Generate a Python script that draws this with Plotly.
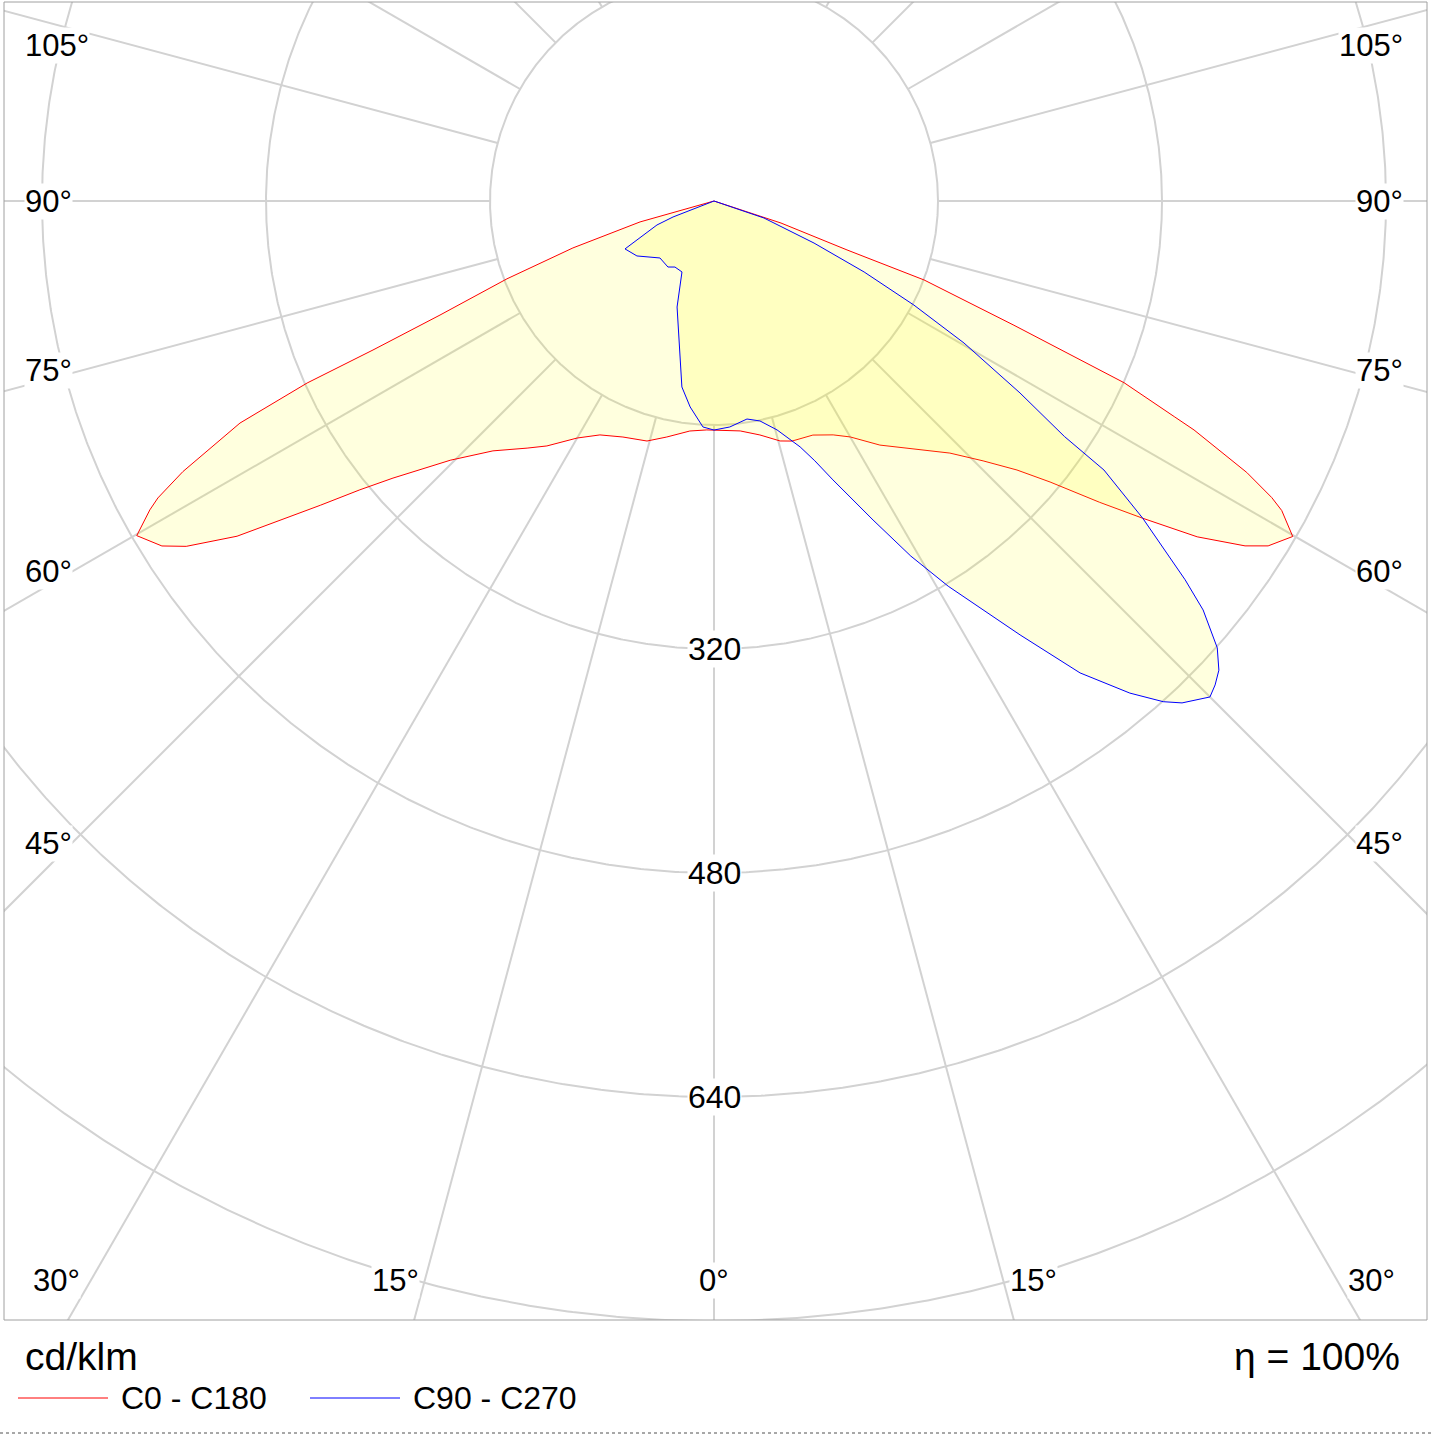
import numpy as np
import plotly.graph_objects as go

# ---------------- data (gamma from nadir in degrees, intensity in cd/klm) ----------------
c0_gamma = [0, 6.5, 11.1, 15.4, 18.0, 22.9, 27.0, 30.0, 34.2, 39.3, 43.1, 46.0, 48.4, 50.1, 52.0,
            53.5, 55.2, 57.0, 58.1, 59.9, 61.4, 62.0, 63.0, 64.5, 64.9, 66.1, 67.5, 69.4, 69.8, 71.8, 90]
c0_cd = [163.6, 165.3, 170.3, 177.8, 180.3, 181.5, 187.5, 194.6, 210.8, 228.9, 246.6, 267.2, 289.4, 312.9, 349.6,
         381.0, 420.3, 452.3, 466.2, 477.8, 461.9, 451.2, 427.1, 379.9, 363.0, 320.4, 231.9, 160.3, 101.2, 50.4, 0]

c180_gamma = [0, 1.8, 6.0, 11.3, 15.6, 21.1, 26.0, 30.0, 34.3, 37.1, 41.5, 45.5, 49.2, 50.8, 52.3,
              54.9, 56.8, 58.0, 59.9, 61.3, 61.9, 63.0, 64.9, 65.9, 66.4, 67.4, 69.4, 71.6, 74.2, 90]
c180_cd = [163.6, 163.6, 165.2, 171.9, 178.0, 180.7, 185.9, 195.5, 211.8, 221.3, 238.3, 264.2, 302.9, 326.4, 355.4,
           416.4, 450.5, 465.0, 476.6, 459.4, 450.3, 425.8, 373.9, 318.4, 265.8, 212.0, 158.0, 106.2, 54.9, 0]

c90_gamma = [0, 4.0, 8.6, 11.8, 15.4, 19.3, 21.2, 23.1, 26.5, 29.0, 31.3, 35.2, 37.8, 40.2, 41.9, 43.0, 45.0,
             46.0, 47.1, 48.4, 50.1, 51.2, 53.5, 55.4, 56.1, 57.9, 60.4, 62.5, 64.7, 67.2, 71.2, 90]
c90_cd = [163.6, 161.8, 157.5, 160.5, 169.6, 186.1, 199.0, 216.6, 254.6, 290.0, 322.0, 379.3, 426.6, 460.2, 480.5, 490.2, 501.0,
          497.6, 492.3, 480.7, 455.4, 431.8, 381.0, 338.4, 301.5, 258.0, 205.4, 161.0, 118.6, 77.5, 37.7, 0]

c270_gamma = [0, 2.8, 6.6, 9.8, 12.3, 19.2, 24.3, 30.6, 34.9, 43.5, 54.5, 61.7, 67.2, 68.7, 90]
c270_cd = [163.6, 161.6, 148.1, 134.8, 114.0, 80.2, 55.6, 54.8, 57.5, 56.1, 67.6, 72.2, 44.2, 31.4, 0]

ring_values = [160, 320, 480, 640, 800]
ring_labels = ["320", "480", "640"]
radial_step_deg = 15

left_angle_labels = ["105°", "90°", "75°", "60°", "45°"]
right_angle_labels = ["105°", "90°", "75°", "60°", "45°"]
bottom_angle_labels = ["30°", "15°", "0°", "15°", "30°"]

unit_text = "cd/klm"
eta_text = "η = 100%"
legend_names = ["C0 - C180", "C90 - C270"]
legend_colors = ["#ff0000", "#0000ff"]

# ---------------- layout geometry (pixels) ----------------
W, H = 1433, 1435
PL, PR, PT, PB = 4, 1427, 2, 1320          # plot area in pixels
CX, CY = 714, 201                           # pole position in pixels
SCALE = 1.4                                 # px per cd/klm

x_range = [(PL - CX) / SCALE, (PR - CX) / SCALE]
y_range = [(CY - PB) / SCALE, (CY - PT) / SCALE]


def px(x):
    return (x - PL) / (PR - PL)


def py(y):
    return (PB - y) / (PB - PT)


def half(gamma, cd, side):
    g = np.radians(np.asarray(gamma, float))
    r = np.asarray(cd, float)
    return side * r * np.sin(g), -r * np.cos(g)


def plane(g_right, cd_right, g_left, cd_left):
    xr, yr = half(g_right, cd_right, 1)
    xl, yl = half(g_left, cd_left, -1)
    x = np.concatenate([xr[::-1], xl])
    y = np.concatenate([yr[::-1], yl])
    return x, y


fig = go.Figure()

grid_color = "#d2d2d2"
t = np.linspace(0, 2 * np.pi, 1441)
gx, gy = [], []
for rv in ring_values:
    gx += list(rv * np.cos(t)) + [None]
    gy += list(rv * np.sin(t)) + [None]
for a in range(0, 360, radial_step_deg):
    ar = np.radians(a)
    r0, r1 = ring_values[0], 2000
    gx += [r0 * np.sin(ar), r1 * np.sin(ar), None]
    gy += [-r0 * np.cos(ar), -r1 * np.cos(ar), None]
fig.add_trace(go.Scatter(x=gx, y=gy, mode="lines", line=dict(color=grid_color, width=2),
                         hoverinfo="skip", showlegend=False))

fill = "rgba(255,255,0,0.13)"
x1, y1 = plane(c0_gamma, c0_cd, c180_gamma, c180_cd)
fig.add_trace(go.Scatter(x=x1, y=y1, mode="lines", fill="toself", fillcolor=fill,
                         line=dict(color=legend_colors[0], width=1), name=legend_names[0],
                         hoverinfo="skip", showlegend=False))
x2, y2 = plane(c90_gamma, c90_cd, c270_gamma, c270_cd)
fig.add_trace(go.Scatter(x=x2, y=y2, mode="lines", fill="toself", fillcolor=fill,
                         line=dict(color=legend_colors[1], width=1), name=legend_names[1],
                         hoverinfo="skip", showlegend=False))

FONT = "Liberation Sans, Arial, sans-serif"
ann = []
lab_font = dict(family=FONT, size=31, color="#000000")
for i, lab in enumerate(ring_labels):
    val = ring_values[i + 1]
    ann.append(dict(x=0, y=-val, xref="x", yref="y", text=lab, showarrow=False,
                    font=dict(family=FONT, size=32, color="#000000"), bgcolor="white", borderpad=0))

left_y = [46, 201, 370, 571, 843]
for lab, yy in zip(left_angle_labels, left_y):
    ann.append(dict(x=px(24), y=py(yy), xref="paper", yref="paper", text=lab, showarrow=False,
                    xanchor="left", yanchor="middle", font=lab_font, bgcolor="white", borderpad=0))
for lab, yy in zip(right_angle_labels, left_y):
    ann.append(dict(x=px(1404), y=py(yy), xref="paper", yref="paper", text=lab, showarrow=False,
                    xanchor="right", yanchor="middle", font=lab_font, bgcolor="white", borderpad=0))
bottom_x = [56, 395, 714, 1033, 1371]
for lab, xx in zip(bottom_angle_labels, bottom_x):
    ann.append(dict(x=px(xx), y=py(1280), xref="paper", yref="paper", text=lab, showarrow=False,
                    xanchor="center", yanchor="middle", font=lab_font, bgcolor="white", borderpad=0))

ann.append(dict(x=px(23), y=py(1356), xref="paper", yref="paper", text=unit_text, showarrow=False,
                xanchor="left", yanchor="middle", font=dict(family=FONT, size=39, color="#000")))
ann.append(dict(x=px(1402), y=py(1356), xref="paper", yref="paper", text=eta_text, showarrow=False,
                xanchor="right", yanchor="middle", font=dict(family=FONT, size=39, color="#000")))

shapes = []
leg_line_x = [(18, 108), (310, 400)]
leg_text_x = [119, 411]
for (a, b), tx, name, col in zip(leg_line_x, leg_text_x, legend_names, legend_colors):
    shapes.append(dict(type="line", xref="paper", yref="paper", x0=px(a), x1=px(b), y0=py(1398), y1=py(1398),
                       line=dict(color=col, width=1)))
    ann.append(dict(x=px(tx), y=py(1398), xref="paper", yref="paper", text=name, showarrow=False,
                    xanchor="left", yanchor="middle", font=dict(family=FONT, size=32, color="#000")))

shapes.append(dict(type="rect", xref="paper", yref="paper", x0=0, x1=1, y0=0, y1=1,
                   line=dict(color="#a0a0a0", width=1), layer="above"))
shapes.append(dict(type="line", xref="paper", yref="paper", x0=px(0), x1=px(W), y0=py(1433), y1=py(1433),
                   line=dict(color="#505050", width=1, dash="dot")))

fig.update_layout(
    width=W, height=H,
    margin=dict(l=PL, r=W - PR, t=PT, b=H - PB, pad=0),
    paper_bgcolor="white", plot_bgcolor="white",
    xaxis=dict(range=x_range, showgrid=False, zeroline=False, showticklabels=False, ticks="",
               showline=False, fixedrange=True),
    yaxis=dict(range=y_range, showgrid=False, zeroline=False, showticklabels=False, ticks="",
               showline=False, fixedrange=True),
    annotations=ann, shapes=shapes, hovermode=False, showlegend=False,
)

fig.write_html("out.html")
